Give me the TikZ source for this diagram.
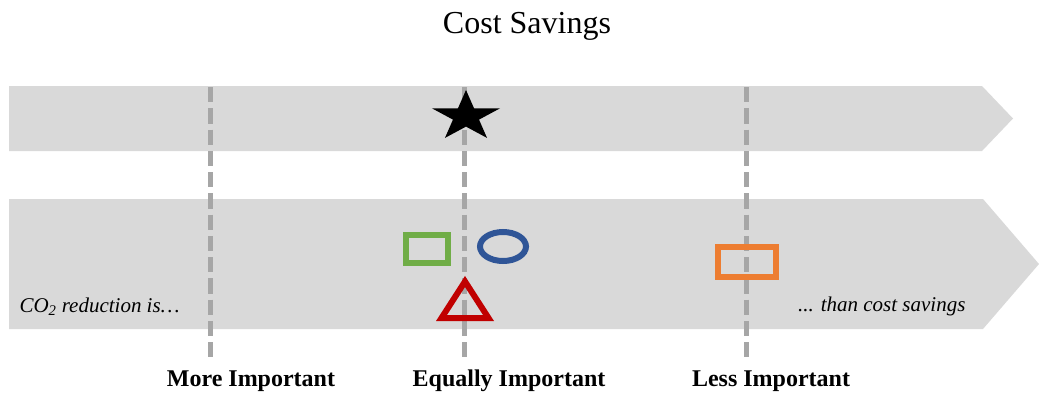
\documentclass[tikz,border=0pt]{standalone}
\usepackage{fontspec}
\setmainfont{Liberation Serif}
\begin{document}
\begin{tikzpicture}[x={(1pt,0)},y={(0,-1pt)},
  band/.style={fill=bandgray,draw=none},
  guide/.style={draw=guidegray,line width=5pt,dash pattern=on 15.25pt off 6pt},
  marker/.style={line width=6pt,line join=miter},
  scalelabel/.style={font=\fontsize{24}{28}\selectfont\bfseries,anchor=base},
  endlabel/.style={font=\fontsize{21}{26}\selectfont\itshape,anchor=base}]
\definecolor{bandgray}{HTML}{D9D9D9}
\definecolor{guidegray}{HTML}{A6A6A6}
\definecolor{mkgreen}{HTML}{70AD47}
\definecolor{mkblue}{HTML}{2F5597}
\definecolor{mkred}{HTML}{C00000}
\definecolor{mkorange}{HTML}{ED7D31}
\useasboundingbox (0,0) rectangle (1039,394);

% title
\node[font=\fontsize{32}{38}\selectfont,anchor=base] (title) at (527,33) {Cost Savings};

% chevron bands
\path[band] (9,86) -- (982,86) -- (1013,118.5) -- (982,151) -- (9,151) -- cycle;
\path[band] (9,199) -- (983,199) -- (1039,264) -- (983,329) -- (9,329) -- cycle;

% dashed guide lines
\coordinate (moreTop) at (210,87);  \coordinate (moreBot) at (210,357);
\coordinate (equalTop) at (464,87); \coordinate (equalBot) at (464,357);
\coordinate (lessTop) at (746,87);  \coordinate (lessBot) at (746,357);
\draw[guide] (moreTop) -- (moreBot);
\draw[guide] (equalTop) -- (equalBot);
\draw[guide] (lessTop) -- (lessBot);

% star (y axis points down, so the top point sits at -90 degrees)
\coordinate (starC) at (466,116.5);
\fill[black] (starC) +(-90:35.8 and 26.5)
  \foreach \k in {0,...,4} {
    -- +({-90+72*\k}:{35.8} and {26.5})
    -- +({-54+72*\k}:{13.7} and {10.1})
  } -- cycle;

% markers
\draw[marker,mkgreen] (406,235) rectangle (448,263);
\draw[marker,mkblue] (503,246.5) ellipse (23 and 14.5);
\draw[marker,mkred] (465,281.5) -- (488.5,318) -- (441.5,318) -- cycle;
\draw[marker,mkorange] (718,247) rectangle (776,277);

% axis texts
\node[endlabel,anchor=base west] (leftend) at (16,312) {CO\textsubscript{2} reduction is…};
\node[endlabel,anchor=base east] (rightend) at (969,311) {... than cost savings};
\node[scalelabel] (more) at (251,386) {More Important};
\node[scalelabel] (equal) at (509,386) {Equally Important};
\node[scalelabel] (less) at (771,386) {Less Important};
\end{tikzpicture}
\end{document}
